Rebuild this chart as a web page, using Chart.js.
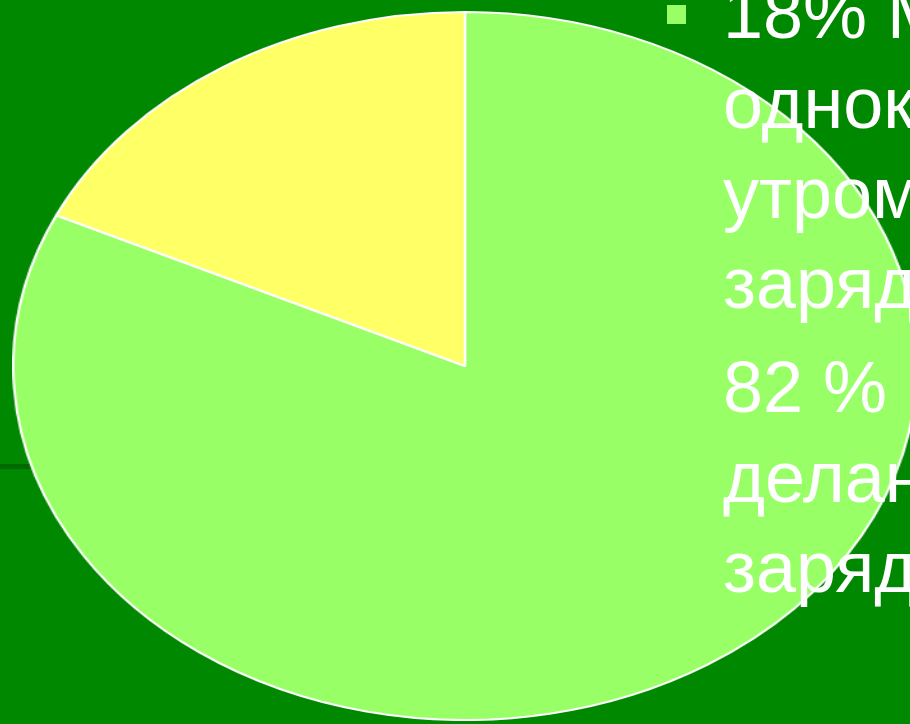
<!DOCTYPE html>
<html>
<head>
<meta charset="utf-8">
<script src="https://cdn.jsdelivr.net/npm/chart.js@4.4.0/dist/chart.umd.min.js"></script>
<style>
    html, body {
        margin: 0;
        padding: 0;
        width: 910px;
        height: 724px;
        overflow: hidden;
        background: #008800;
    }
    #pieBox {
        position: absolute;
        left: 110px;
        top: 11px;
        width: 710px;
        height: 710px;
        transform-origin: 50% 50%;
        transform: scaleX(1.276);
    }
    #mark {
        position: absolute;
        left: 0;
        top: 464px;
        width: 30px;
        height: 5px;
        background: #006a00;
    }
    #bullet {
        position: absolute;
        left: 667px;
        top: 5px;
        width: 19px;
        height: 19px;
        background: #99ff66;
    }
    #caption {
        position: absolute;
        left: 723px;
        top: -32px;
        font-family: "Liberation Sans", Arial, sans-serif;
        font-size: 72px;
        line-height: 90px;
        color: #ffffff;
        white-space: nowrap;
    }
    #caption p {
        margin: 0;
    }
    #caption p + p {
        margin-top: 14px;
    }
</style>
</head>
<body>
<div id="mark"></div>
<div id="pieBox"><canvas id="pieChart"></canvas></div>
<div id="bullet"></div>
<div id="caption">
    <p>18% Моих<br>одноклассников<br>утром делают<br>зарядку,</p>
    <p>82 % не<br>деланют<br>зарядку</p>
</div>

<script>
// slice order: clockwise from 12 o'clock
const labels = ['82 % не делают зарядку', '18% утром делают зарядку'];
const shares = [82, 18];
const sliceColors = ['#99ff66', '#ffff66'];

function drawPie() {
    const ctx = document.getElementById('pieChart').getContext('2d');
    new Chart(ctx, {
        type: 'pie',
        data: {
            labels: labels,
            datasets: [{
                data: shares,
                backgroundColor: sliceColors,
                borderColor: '#ffffff',
                borderWidth: 2
            }]
        },
        options: {
            responsive: true,
            maintainAspectRatio: false,
            animation: false,
            layout: { padding: 0 },
            plugins: {
                legend: { display: false },
                tooltip: { enabled: false }
            }
        }
    });
}

document.addEventListener('DOMContentLoaded', drawPie);
</script>
</body>
</html>
